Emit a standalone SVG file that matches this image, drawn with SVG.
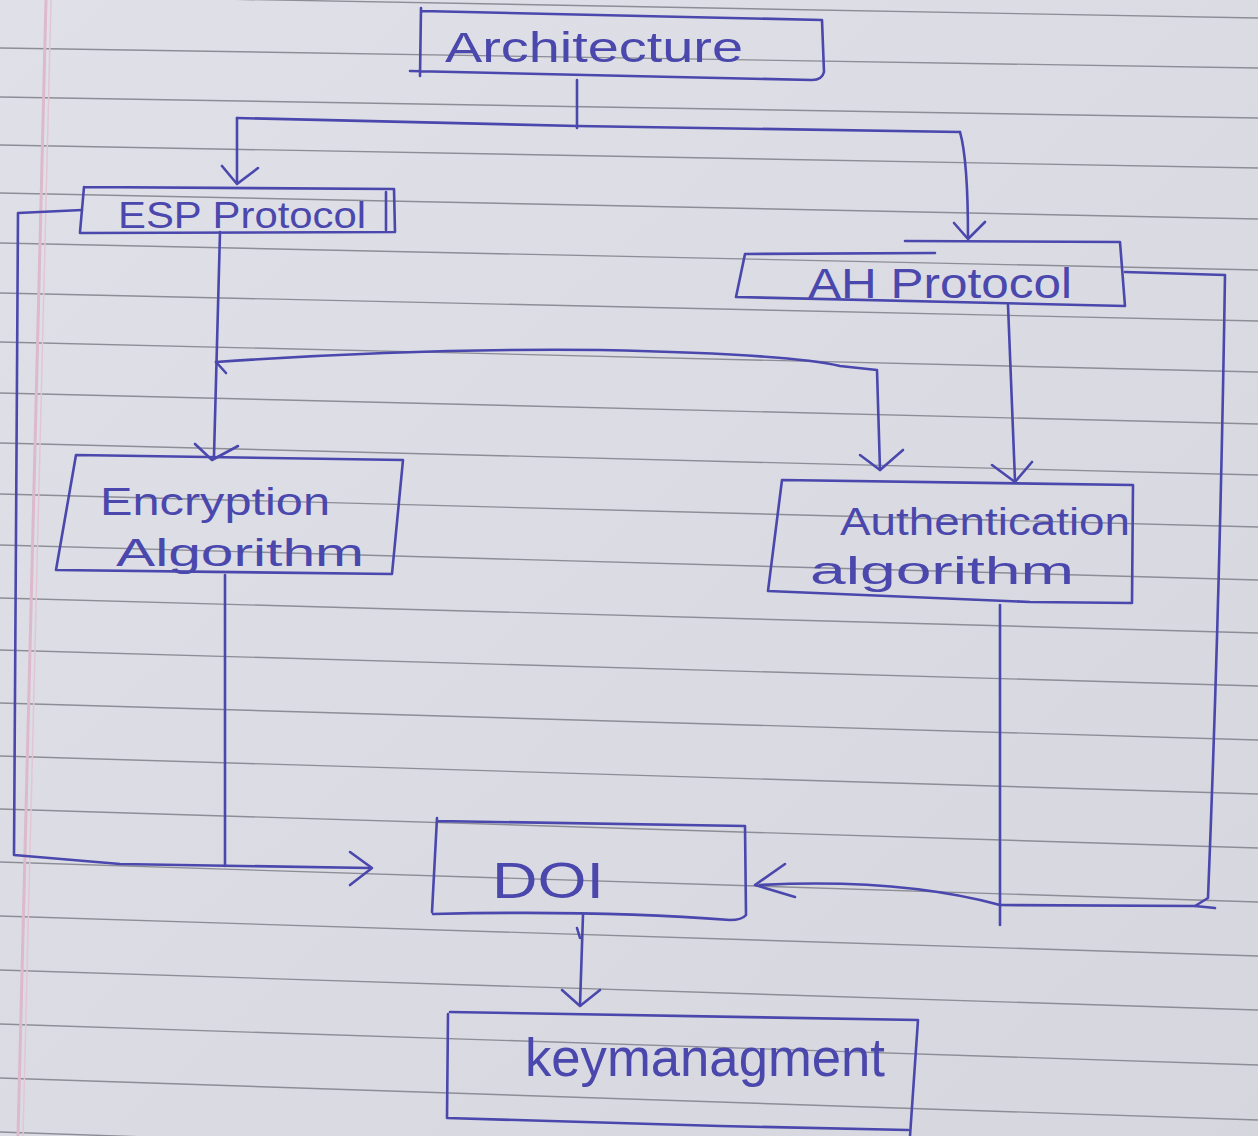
<svg xmlns="http://www.w3.org/2000/svg" width="1258" height="1136" viewBox="0 0 1258 1136">
<style>
.ink{fill:none;stroke:#4a47ad;stroke-width:2.6;stroke-linecap:round;stroke-linejoin:round}
.txt{fill:#4a47ad;font-family:"Liberation Sans","DejaVu Sans",sans-serif}
.rule{stroke:#8d8d97;stroke-width:1.4}
</style>
<defs>
<linearGradient id="paper" x1="0" y1="0" x2="1" y2="1">
<stop offset="0" stop-color="#e0e0e8"/>
<stop offset="1" stop-color="#d6d6df"/>
</linearGradient>
</defs>
<rect x="0" y="0" width="1258" height="1136" fill="url(#paper)"/>
<g id="ruling">
<line class="rule" x1="0" y1="-5" x2="1258" y2="18"/>
<line class="rule" x1="0" y1="48" x2="1258" y2="68"/>
<line class="rule" x1="0" y1="97" x2="1258" y2="118"/>
<line class="rule" x1="0" y1="145" x2="1258" y2="168"/>
<line class="rule" x1="0" y1="193" x2="1258" y2="219"/>
<line class="rule" x1="0" y1="243" x2="1258" y2="270"/>
<line class="rule" x1="0" y1="293" x2="1258" y2="321"/>
<line class="rule" x1="0" y1="342" x2="1258" y2="372"/>
<line class="rule" x1="0" y1="393" x2="1258" y2="424"/>
<line class="rule" x1="0" y1="443" x2="1258" y2="475"/>
<line class="rule" x1="0" y1="494" x2="1258" y2="527"/>
<line class="rule" x1="0" y1="545" x2="1258" y2="580"/>
<line class="rule" x1="0" y1="598" x2="1258" y2="633"/>
<line class="rule" x1="0" y1="650" x2="1258" y2="686"/>
<line class="rule" x1="0" y1="703" x2="1258" y2="740"/>
<line class="rule" x1="0" y1="756" x2="1258" y2="794"/>
<line class="rule" x1="0" y1="809" x2="1258" y2="848"/>
<line class="rule" x1="0" y1="862" x2="1258" y2="902"/>
<line class="rule" x1="0" y1="916" x2="1258" y2="956"/>
<line class="rule" x1="0" y1="970" x2="1258" y2="1010"/>
<line class="rule" x1="0" y1="1024" x2="1258" y2="1065"/>
<line class="rule" x1="0" y1="1078" x2="1258" y2="1120"/>
<line class="rule" x1="0" y1="1132" x2="1258" y2="1175"/>
<line x1="46" y1="0" x2="18" y2="1136" stroke="#dcb9cb" stroke-width="3"/>
<line x1="51" y1="0" x2="23" y2="1136" stroke="#e2c6d3" stroke-width="1.5"/>
</g>
<g id="connectors">
<path class="ink" d="M577,80 L577,128"/>
<path class="ink" d="M237,118 L577,126 L960,132"/>
<path class="ink" d="M237,118 L237,183"/>
<path class="ink" d="M222,166 L237,184 L258,168"/>
<path class="ink" d="M960,132 Q968,160 968,238"/>
<path class="ink" d="M954,223 L968,239 L985,222"/>
<path class="ink" d="M82,210 L18,213 L14,855 L120,864 L370,868"/>
<path class="ink" d="M350,852 L372,868 L350,885"/>
<path class="ink" d="M220,232 L214,456"/>
<path class="ink" d="M195,444 L212,460 L238,446"/>
<path class="ink" d="M216,362 Q420,348 600,350 Q790,354 840,366 L877,370 L880,470"/>
<path class="ink" d="M216,362 L226,373"/>
<path class="ink" d="M860,455 L880,470 L903,450"/>
<path class="ink" d="M1008,305 L1015,481"/>
<path class="ink" d="M992,465 L1015,482 L1032,462"/>
<path class="ink" d="M1125,272 L1225,275 Q1220,600 1208,898 L1195,906 L1000,905"/>
<path class="ink" d="M1195,906 L1215,908"/>
<path class="ink" d="M1000,605 L1000,925"/>
<path class="ink" d="M1000,905 Q900,878 760,885"/>
<path class="ink" d="M785,864 L755,885 L795,897"/>
<path class="ink" d="M225,575 L225,866"/>
<path class="ink" d="M583,915 L580,1005"/>
<path class="ink" d="M577,928 L580,938"/>
<path class="ink" d="M562,990 L580,1006 L600,990"/>
</g>
<g id="architecture">
<path class="ink" d="M421,8 L420,76 M422,11 L822,20 L824,72 Q822,80 812,80 L410,71"/>
<text class="txt" x="445" y="62" font-size="42" textLength="298" lengthAdjust="spacingAndGlyphs">Architecture</text>
</g>
<g id="esp-protocol">
<path class="ink" d="M84,187 L80,232 M84,187 L394,189 L395,232 L80,233 M386,192 L386,230"/>
<text class="txt" x="118" y="228" font-size="36" textLength="248" lengthAdjust="spacingAndGlyphs">ESP Protocol</text>
</g>
<g id="ah-protocol">
<path class="ink" d="M745,254 L736,297 M745,254 L935,253 M905,241 L1120,242 L1125,306 M736,297 L1125,306"/>
<text class="txt" x="808" y="298" font-size="42" textLength="264" lengthAdjust="spacingAndGlyphs">AH Protocol</text>
</g>
<g id="encryption-algorithm">
<path class="ink" d="M76,455 L403,460 L392,574 L56,570 Z"/>
<text class="txt" x="100" y="515" font-size="38" textLength="230" lengthAdjust="spacingAndGlyphs">Encryption</text>
<text class="txt" x="116" y="566" font-size="38" textLength="248" lengthAdjust="spacingAndGlyphs">Algorithm</text>
</g>
<g id="authentication-algorithm">
<path class="ink" d="M782,480 L1133,485 L1132,603 L1030,602 L768,591 Z"/>
<text class="txt" x="840" y="535" font-size="38" textLength="290" lengthAdjust="spacingAndGlyphs">Authentication</text>
<text class="txt" x="810" y="584" font-size="38" textLength="264" lengthAdjust="spacingAndGlyphs">algorithm</text>
</g>
<g id="doi">
<path class="ink" d="M437,818 L432,912 M437,821 L745,826 L746,915 Q742,920 730,920 Q600,910 433,914"/>
<text class="txt" x="492" y="898" font-size="50" textLength="112" lengthAdjust="spacingAndGlyphs">DOI</text>
</g>
<g id="key-management">
<path class="ink" d="M450,1012 L918,1020 L910,1136 M448,1014 L447,1118 L720,1126 L908,1130"/>
<text class="txt" x="525" y="1076" font-size="54" textLength="360" lengthAdjust="spacingAndGlyphs">keymanagment</text>
</g>
</svg>
